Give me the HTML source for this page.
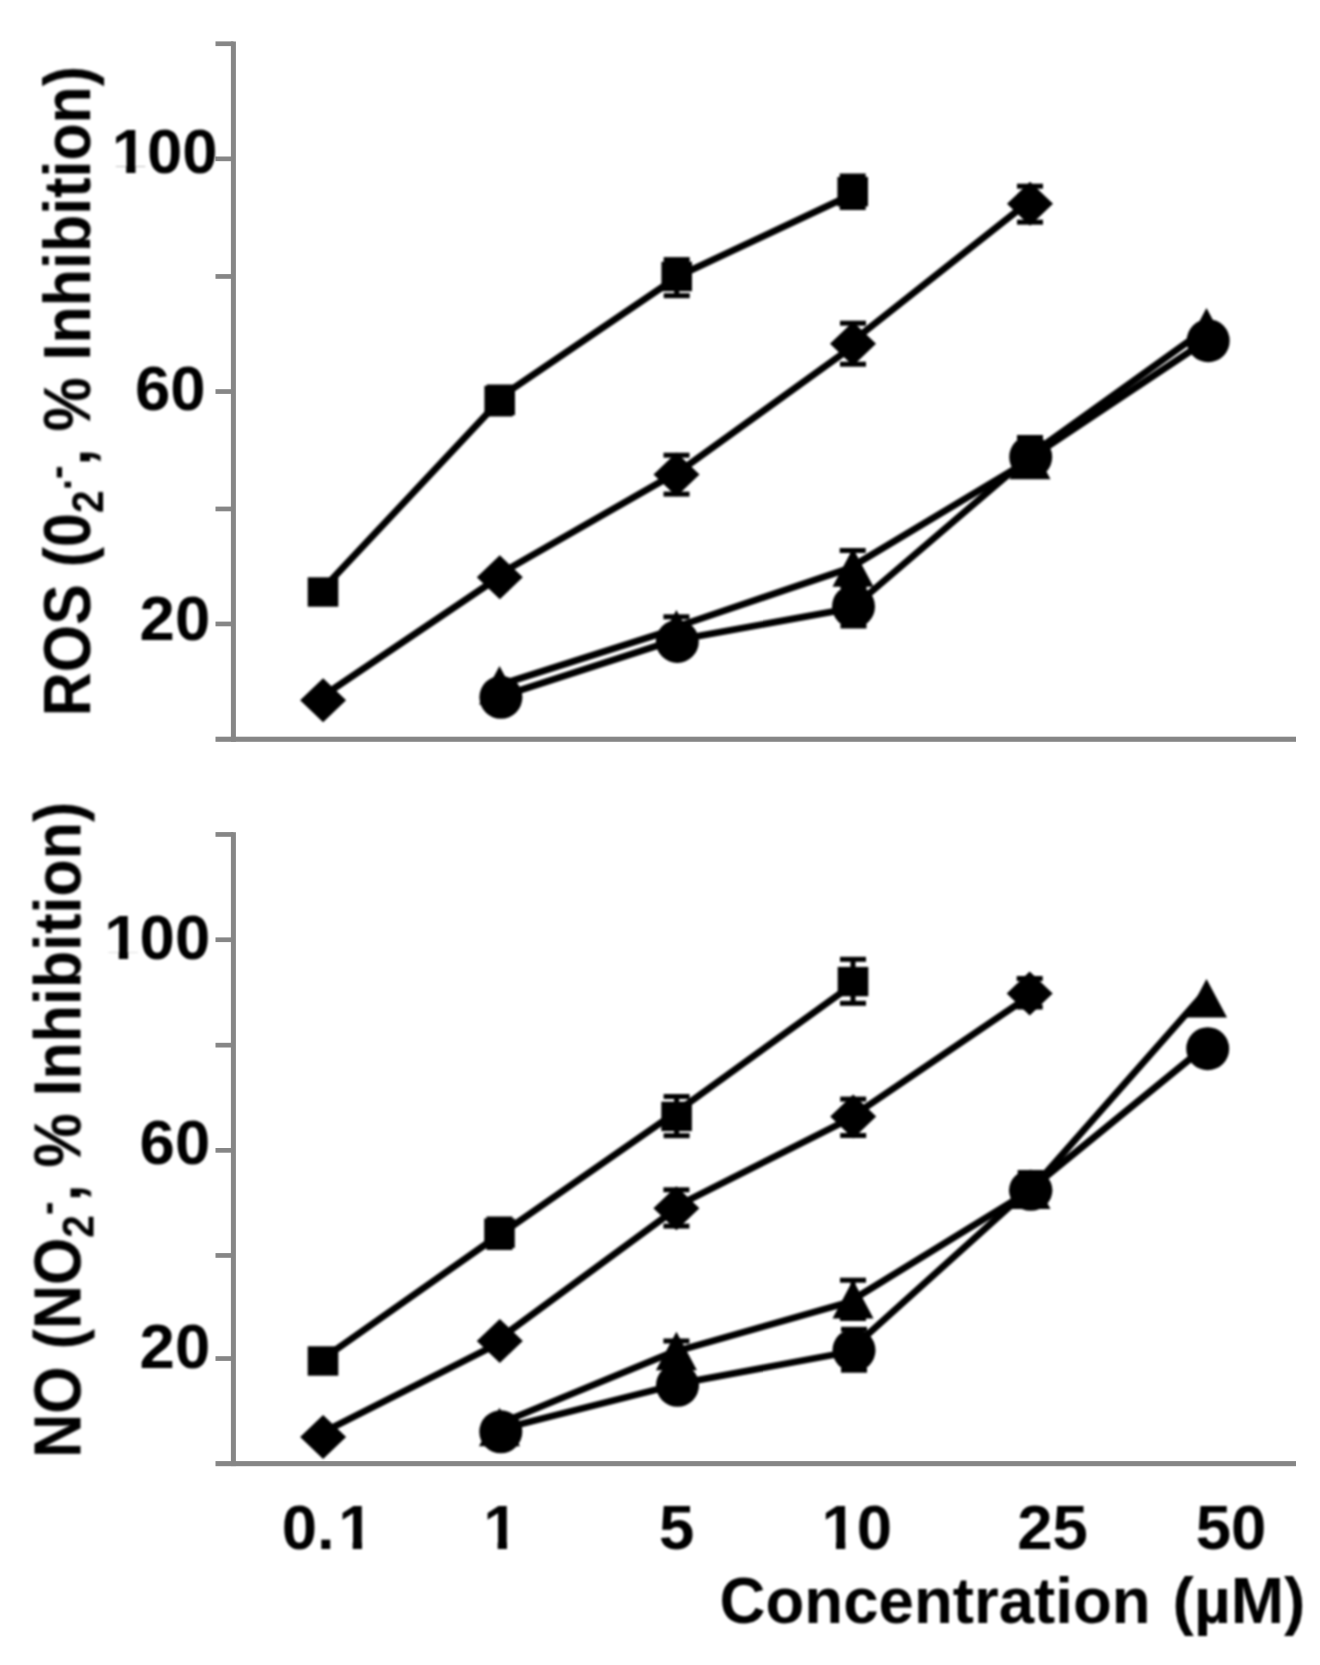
<!DOCTYPE html>
<html lang="en">
<head>
<meta charset="utf-8">
<title>ROS and NO inhibition versus concentration</title>
<style>
html,body{margin:0;padding:0;background:#fff;}
body{width:1320px;height:1665px;overflow:hidden;}
svg{display:block;}
.soft{filter:blur(0.8px);}
text{white-space:pre;}
</style>
</head>
<body>
<svg width="1320" height="1665" viewBox="0 0 1320 1665">
<rect width="1320" height="1665" fill="#fff"/>
<defs><clipPath id="k1"><path d="M109.7,109.5 H251.4 V192.1 H146.3 V166.4 H135.5 V174.0 H126.2 V166.4 H109.7 Z"/></clipPath>
<clipPath id="k2"><path d="M102.3,895.4 H244.0 V977.9 H138.9 V952.3 H128.1 V959.9 H118.8 V952.3 H102.3 Z"/></clipPath>
<clipPath id="k3"><path d="M278.8,1485.1 H376.3 V1542.0 H362.0 V1549.6 H352.7 V1542.0 H339.2 V1567.6 H278.8 Z"/></clipPath>
<clipPath id="k4"><path d="M481.2,1485.1 H622.9 V1567.6 H517.8 V1542.0 H507.0 V1549.6 H497.7 V1542.0 H481.2 Z"/></clipPath>
<clipPath id="k5"><path d="M819.5,1485.1 H961.2 V1567.6 H856.1 V1542.0 H845.3 V1549.6 H836.0 V1542.0 H819.5 Z"/></clipPath></defs>
<rect x="230.9" y="41.5" width="5" height="700.2" fill="#868686"/>
<rect x="215.5" y="736.7" width="1080.5" height="5.1" fill="#868686"/>
<rect x="215.5" y="41.4" width="17.9" height="4.7" fill="#868686"/>
<rect x="215.5" y="156.5" width="17.9" height="4.7" fill="#868686"/>
<rect x="215.5" y="274.1" width="17.9" height="4.7" fill="#868686"/>
<rect x="215.5" y="389.2" width="17.9" height="4.7" fill="#868686"/>
<rect x="215.5" y="506.6" width="17.9" height="4.7" fill="#868686"/>
<rect x="215.5" y="621.6" width="17.9" height="4.7" fill="#868686"/>
<g class="soft" fill="#000"><rect x="674.2" y="259.6" width="5" height="36.1"/><rect x="663.7" y="257.1" width="26" height="5"/><rect x="663.7" y="293.2" width="26" height="5"/>
<rect x="497.2" y="387.0" width="5" height="27.0"/><rect x="486.7" y="384.5" width="26" height="5"/><rect x="486.7" y="411.5" width="26" height="5"/>
<rect x="850.2" y="176.0" width="5" height="31.5"/><rect x="839.7" y="173.5" width="26" height="5"/><rect x="839.7" y="205.0" width="26" height="5"/>
<rect x="674.0" y="455.2" width="5" height="38.9"/><rect x="663.5" y="452.7" width="26" height="5"/><rect x="663.5" y="491.6" width="26" height="5"/>
<rect x="850.5" y="323.2" width="5" height="41.0"/><rect x="840.0" y="320.7" width="26" height="5"/><rect x="840.0" y="361.7" width="26" height="5"/>
<rect x="1027.5" y="186.2" width="5" height="36.0"/><rect x="1017.0" y="183.7" width="26" height="5"/><rect x="1017.0" y="219.7" width="26" height="5"/>
<rect x="673.9" y="616.8" width="5" height="24.2"/><rect x="663.4" y="614.3" width="26" height="5"/><rect x="663.4" y="638.5" width="26" height="5"/>
<rect x="850.2" y="550.5" width="5" height="33.5"/><rect x="839.7" y="548.0" width="26" height="5"/><rect x="839.7" y="581.5" width="26" height="5"/>
<rect x="851.0" y="587.0" width="5" height="39.0"/><rect x="840.5" y="584.5" width="26" height="5"/><rect x="840.5" y="623.5" width="26" height="5"/>
<rect x="1027.5" y="437.5" width="5" height="38.5"/><rect x="1017.0" y="435.0" width="26" height="5"/><rect x="1017.0" y="473.5" width="26" height="5"/>
<polyline points="323.0,588.9 499.7,400.4" fill="none" stroke="#000" stroke-width="6.8" stroke-linejoin="round"/>
<polyline points="499.7,397.5 676.7,277.4" fill="none" stroke="#000" stroke-width="6.8" stroke-linejoin="round"/>
<polyline points="676.7,276.8 852.7,194.2" fill="none" stroke="#000" stroke-width="6.8" stroke-linejoin="round"/>
<polyline points="323.1,695.9 499.8,576.6" fill="none" stroke="#000" stroke-width="6.8" stroke-linejoin="round"/>
<polyline points="499.8,573.9 676.5,472.7" fill="none" stroke="#000" stroke-width="6.8" stroke-linejoin="round"/>
<polyline points="676.5,473.5 853.0,346.3" fill="none" stroke="#000" stroke-width="6.8" stroke-linejoin="round"/>
<polyline points="853.0,340.8 1030.0,200.8" fill="none" stroke="#000" stroke-width="6.8" stroke-linejoin="round"/>
<polyline points="499.5,684.9 676.4,628.5" fill="none" stroke="#000" stroke-width="6.8" stroke-linejoin="round"/>
<polyline points="676.4,626.9 853.0,567.0" fill="none" stroke="#000" stroke-width="6.8" stroke-linejoin="round"/>
<polyline points="853.0,566.0 1030.0,459.8" fill="none" stroke="#000" stroke-width="6.8" stroke-linejoin="round"/>
<polyline points="1030.0,454.9 1206.5,328.5" fill="none" stroke="#000" stroke-width="6.8" stroke-linejoin="round"/>
<polyline points="500.9,696.5 677.3,639.2" fill="none" stroke="#000" stroke-width="6.8" stroke-linejoin="round"/>
<polyline points="677.3,639.9 853.5,607.9" fill="none" stroke="#000" stroke-width="6.8" stroke-linejoin="round"/>
<polyline points="853.5,607.0 1030.7,455.4" fill="none" stroke="#000" stroke-width="6.8" stroke-linejoin="round"/>
<polyline points="1030.7,457.6 1208.2,339.4" fill="none" stroke="#000" stroke-width="6.8" stroke-linejoin="round"/>
<rect x="307.7" y="577.3" width="30.6" height="29.4"/>
<rect x="484.4" y="385.8" width="30.6" height="29.4"/>
<rect x="661.4" y="261.8" width="30.6" height="29.4"/>
<rect x="837.4" y="177.0" width="30.6" height="29.4"/>
<polygon points="300.1,700.2 323.1,678.2 346.1,700.2 323.1,722.2"/>
<polygon points="476.8,577.3 499.8,555.3 522.8,577.3 499.8,599.3"/>
<polygon points="653.5,474.6 676.5,452.6 699.5,474.6 676.5,496.6"/>
<polygon points="830.0,343.7 853.0,321.7 876.0,343.7 853.0,365.7"/>
<polygon points="1007.0,203.8 1030.0,181.8 1053.0,203.8 1030.0,225.8"/>
<polygon points="479.0,704.5 499.5,666.0 520.0,704.5"/>
<polygon points="655.9,648.5 676.4,610.0 696.9,648.5"/>
<polygon points="832.5,586.8 853.0,548.2 873.5,586.8"/>
<polygon points="1009.5,479.2 1030.0,440.8 1050.5,479.2"/>
<polygon points="1186.0,346.6 1206.5,308.1 1227.0,346.6"/>
<circle cx="500.9" cy="697.3" r="21.5"/>
<circle cx="677.3" cy="641.4" r="21.5"/>
<circle cx="853.5" cy="606.5" r="21.5"/>
<circle cx="1030.7" cy="457.0" r="21.5"/>
<circle cx="1208.2" cy="340.7" r="21.5"/></g>
<rect x="230.9" y="832.2" width="5" height="633.9" fill="#868686"/>
<rect x="215.5" y="1461.1" width="1080.5" height="5.1" fill="#868686"/>
<rect x="215.5" y="832.1" width="17.9" height="4.7" fill="#868686"/>
<rect x="215.5" y="937.4" width="17.9" height="4.7" fill="#868686"/>
<rect x="215.5" y="1042.8" width="17.9" height="4.7" fill="#868686"/>
<rect x="215.5" y="1148.0" width="17.9" height="4.7" fill="#868686"/>
<rect x="215.5" y="1253.1" width="17.9" height="4.7" fill="#868686"/>
<rect x="215.5" y="1356.2" width="17.9" height="4.7" fill="#868686"/>
<g class="soft" fill="#000"><rect x="497.0" y="1219.0" width="5" height="28.5"/><rect x="486.5" y="1216.5" width="26" height="5"/><rect x="486.5" y="1245.0" width="26" height="5"/>
<rect x="674.1" y="1096.5" width="5" height="39.2"/><rect x="663.6" y="1094.0" width="26" height="5"/><rect x="663.6" y="1133.2" width="26" height="5"/>
<rect x="850.5" y="959.3" width="5" height="44.0"/><rect x="840.0" y="956.8" width="26" height="5"/><rect x="840.0" y="1000.8" width="26" height="5"/>
<rect x="673.9" y="1189.8" width="5" height="36.3"/><rect x="663.4" y="1187.3" width="26" height="5"/><rect x="663.4" y="1223.6" width="26" height="5"/>
<rect x="850.7" y="1099.1" width="5" height="36.4"/><rect x="840.2" y="1096.6" width="26" height="5"/><rect x="840.2" y="1133.0" width="26" height="5"/>
<rect x="1027.2" y="978.5" width="5" height="28.5"/><rect x="1016.7" y="976.0" width="26" height="5"/><rect x="1016.7" y="1004.5" width="26" height="5"/>
<rect x="673.9" y="1341.0" width="5" height="21.0"/><rect x="663.4" y="1338.5" width="26" height="5"/><rect x="663.4" y="1359.5" width="26" height="5"/>
<rect x="850.5" y="1280.2" width="5" height="38.3"/><rect x="840.0" y="1277.7" width="26" height="5"/><rect x="840.0" y="1316.0" width="26" height="5"/>
<rect x="851.5" y="1329.3" width="5" height="40.9"/><rect x="841.0" y="1326.8" width="26" height="5"/><rect x="841.0" y="1367.7" width="26" height="5"/>
<rect x="1028.2" y="1172.5" width="5" height="33.5"/><rect x="1017.7" y="1170.0" width="26" height="5"/><rect x="1017.7" y="1203.5" width="26" height="5"/>
<polyline points="323.0,1358.7 499.5,1234.6" fill="none" stroke="#000" stroke-width="6.8" stroke-linejoin="round"/>
<polyline points="499.5,1235.0 676.6,1111.8" fill="none" stroke="#000" stroke-width="6.8" stroke-linejoin="round"/>
<polyline points="676.6,1111.7 853.0,984.2" fill="none" stroke="#000" stroke-width="6.8" stroke-linejoin="round"/>
<polyline points="323.1,1432.3 499.8,1342.8" fill="none" stroke="#000" stroke-width="6.8" stroke-linejoin="round"/>
<polyline points="499.8,1338.4 676.4,1208.4" fill="none" stroke="#000" stroke-width="6.8" stroke-linejoin="round"/>
<polyline points="676.4,1206.2 853.2,1117.0" fill="none" stroke="#000" stroke-width="6.8" stroke-linejoin="round"/>
<polyline points="853.2,1115.8 1029.7,995.9" fill="none" stroke="#000" stroke-width="6.8" stroke-linejoin="round"/>
<polyline points="499.5,1423.7 676.4,1350.7" fill="none" stroke="#000" stroke-width="6.8" stroke-linejoin="round"/>
<polyline points="676.4,1351.3 853.0,1300.9" fill="none" stroke="#000" stroke-width="6.8" stroke-linejoin="round"/>
<polyline points="853.0,1299.5 1030.0,1190.7" fill="none" stroke="#000" stroke-width="6.8" stroke-linejoin="round"/>
<polyline points="1030.0,1191.0 1203.0,994.8" fill="none" stroke="#000" stroke-width="6.8" stroke-linejoin="round"/>
<polyline points="500.8,1429.0 677.5,1384.3" fill="none" stroke="#000" stroke-width="6.8" stroke-linejoin="round"/>
<polyline points="677.5,1383.8 854.0,1351.0" fill="none" stroke="#000" stroke-width="6.8" stroke-linejoin="round"/>
<polyline points="854.0,1346.8 1030.7,1187.6" fill="none" stroke="#000" stroke-width="6.8" stroke-linejoin="round"/>
<polyline points="1030.7,1189.0 1207.7,1044.5" fill="none" stroke="#000" stroke-width="6.8" stroke-linejoin="round"/>
<rect x="307.7" y="1346.3" width="30.6" height="29.4"/>
<rect x="484.2" y="1218.5" width="30.6" height="29.4"/>
<rect x="661.3" y="1101.7" width="30.6" height="29.4"/>
<rect x="837.7" y="966.9" width="30.6" height="29.4"/>
<polygon points="300.1,1437.0 323.1,1415.0 346.1,1437.0 323.1,1459.0"/>
<polygon points="476.8,1340.9 499.8,1318.9 522.8,1340.9 499.8,1362.9"/>
<polygon points="653.4,1208.3 676.4,1186.3 699.4,1208.3 676.4,1230.3"/>
<polygon points="830.2,1116.5 853.2,1094.5 876.2,1116.5 853.2,1138.5"/>
<polygon points="1006.7,993.5 1029.7,971.5 1052.7,993.5 1029.7,1015.5"/>
<polygon points="479.0,1446.2 499.5,1407.8 520.0,1446.2"/>
<polygon points="655.9,1370.2 676.4,1331.8 696.9,1370.2"/>
<polygon points="832.5,1318.5 853.0,1280.0 873.5,1318.5"/>
<polygon points="1009.5,1209.0 1030.0,1170.5 1050.5,1209.0"/>
<polygon points="1186.0,1017.5 1206.5,979.0 1227.0,1017.5"/>
<circle cx="500.8" cy="1431.8" r="21.5"/>
<circle cx="677.5" cy="1385.3" r="21.5"/>
<circle cx="854.0" cy="1350.3" r="21.5"/>
<ellipse cx="1030.7" cy="1190.3" rx="21.7" ry="20.5"/>
<circle cx="1207.7" cy="1048.7" r="21.5"/></g>
<g class="soft" fill="#000" font-family="'Liberation Sans', Arial, Helvetica, sans-serif" font-weight="bold"><text x="111.7" y="173.0" font-size="63.5" clip-path="url(#k1)">100</text>
<text x="134.9" y="410.2" font-size="63.5">60</text>
<text x="139.6" y="640.2" font-size="63.5">20</text>
<text x="104.3" y="958.9" font-size="63.5" clip-path="url(#k2)">100</text>
<text x="139.6" y="1164.3" font-size="63.5">60</text>
<text x="139.6" y="1367.5" font-size="63.5">20</text>
<text x="281.8" y="1548.6" font-size="63.5" clip-path="url(#k3)">0.<tspan dx="3.4">1</tspan></text>
<text x="483.2" y="1548.6" font-size="63.5" clip-path="url(#k4)">1</text>
<text x="659.0" y="1548.6" font-size="63.5">5</text>
<text x="821.5" y="1548.6" font-size="63.5" clip-path="url(#k5)">10</text>
<text x="1017.2" y="1548.6" font-size="63.5">25</text>
<text x="1195.8" y="1548.6" font-size="63.5">50</text>
<text y="1622.8" font-size="64"><tspan x="719.6" textLength="431" lengthAdjust="spacingAndGlyphs">Concentration</tspan><tspan> </tspan><tspan x="1172.6">(µM)</tspan></text>
<text transform="translate(90.1,716.3) rotate(-90) scale(0.91,1)" font-size="67">ROS (0<tspan font-size="44.8" dy="13">2</tspan><tspan font-size="44.8" dy="-32.5">.-</tspan><tspan dy="19.5">, % Inhibition)</tspan></text>
<text transform="translate(80.5,1457.8) rotate(-90) scale(0.91,1)" font-size="67">NO (NO<tspan font-size="44.8" dy="13">2</tspan><tspan font-size="44.8" dy="-32.5">-</tspan><tspan dy="19.5">, % Inhibition)</tspan></text></g>
</svg>
</body>
</html>
